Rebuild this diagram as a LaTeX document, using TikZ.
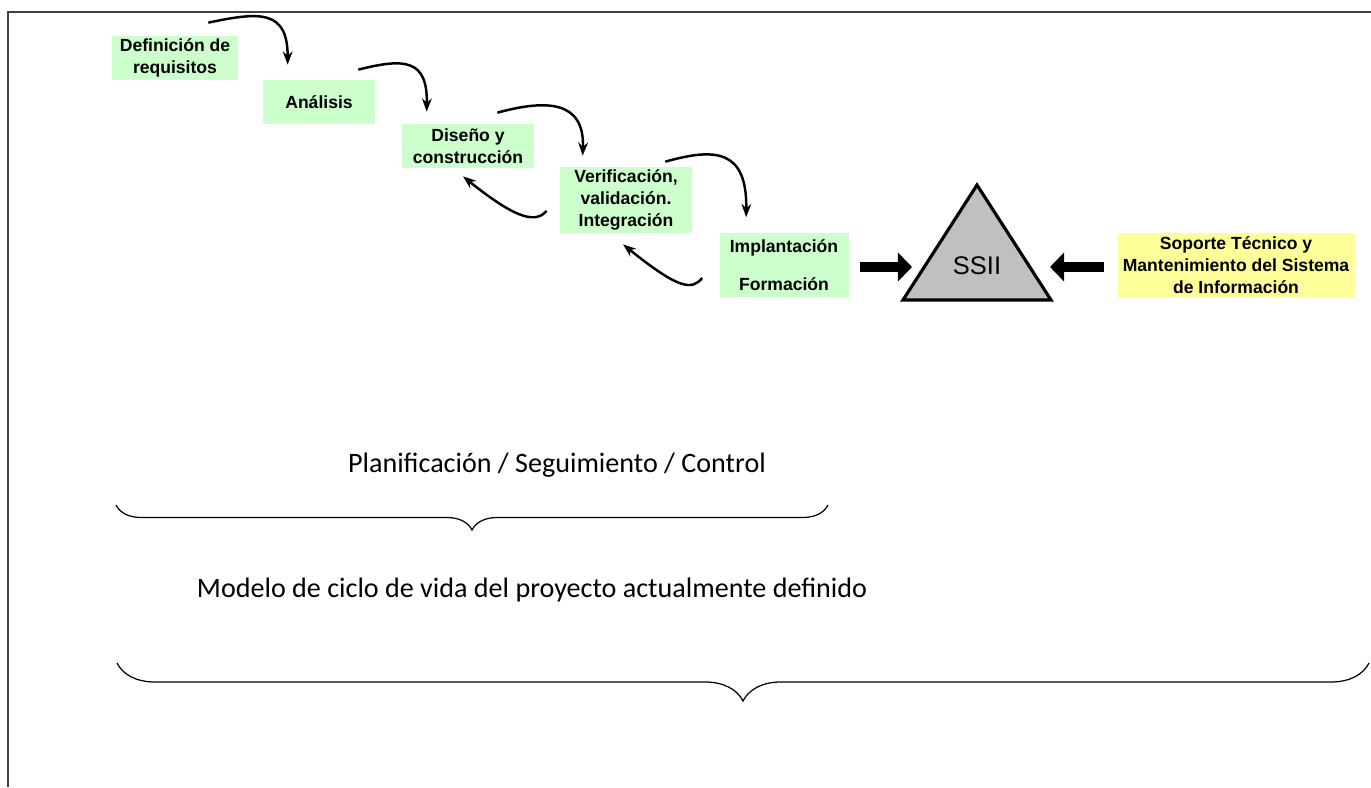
\documentclass[tikz,border=0pt]{standalone}
\usepackage{fontspec}
\newfontfamily\arialfont{Liberation Sans}
\newfontfamily\calibrifont{Carlito}
\usetikzlibrary{decorations.pathreplacing}
\usetikzlibrary{arrows.meta,calc}
\tikzset{>={Stealth[length=7.5pt,width=5.5pt]}}
\definecolor{phasegreen}{HTML}{CCFFCC}
\definecolor{supportyellow}{HTML}{FFFF99}
\definecolor{ssiigray}{HTML}{C0C0C0}
\definecolor{framegray}{HTML}{404040}
\tikzset{
  phase/.style={fill=phasegreen, inner sep=0pt, align=center,
    font=\arialfont\bfseries\fontsize{10}{12.5}\selectfont},
  flow/.style={->, line width=1.4pt},
  push/.style={-{Triangle[length=8pt,width=16pt]}, line width=5.2pt},
  bracket/.style={decorate, decoration={brace, mirror, amplitude=#1}, line width=0.7pt},
  caption/.style={font=\calibrifont\fontsize{16}{19}\selectfont}
}

\begin{document}
\begin{tikzpicture}[x=0.02cm, y=-0.02cm]
    \useasboundingbox (0,0) rectangle (1371,787);
    \draw[framegray, line width=1.2pt] (8,787) -- (8,12) -- (1371,12);

    % phases
    \node[phase, minimum width=2.52cm, minimum height=0.88cm] (defreq) at (175,58) {Definición de\\requisitos};
    \node[phase, minimum width=2.24cm, minimum height=0.88cm] (analisis) at (319,102) {Análisis};
    \node[phase, minimum width=2.64cm, minimum height=0.88cm] (diseno) at (468,146) {Diseño y\\construcción};
    \node[phase, minimum width=2.64cm, minimum height=1.32cm] (verif) at (626,200) {Verificación,\\validación.\\Integración};
    \node[phase, minimum width=2.58cm, minimum height=1.30cm] (implant) at (784,265) {Implantación\\[9.5pt]Formación};
    \node[phase, fill=supportyellow, minimum width=4.74cm, minimum height=1.30cm] (soporte) at (1236,265) {Soporte Técnico y\\Mantenimiento del Sistema\\de Información};

    \draw[flow] ($(defreq.north east)+(-30,-13)$) .. controls ($(defreq.north east)+(22,-24)$) and ($(analisis.north west)+(25,-70)$) .. ($(analisis.north west)+(25,-15)$);
    \draw[flow] ($(analisis.north east)+(-17,-10)$) .. controls ($(analisis.north east)+(30,-22)$) and ($(diseno.north west)+(26,-64)$) .. ($(diseno.north west)+(25,-12)$);
    \draw[flow] ($(diseno.north east)+(-37,-11)$) .. controls ($(diseno.north east)+(11,-24)$) and ($(verif.north west)+(25,-67)$) .. ($(verif.north west)+(23,-11)$);
    \draw[flow] ($(verif.north east)+(-27,-5)$) .. controls ($(verif.north east)+(23,-19)$) and ($(implant.north west)+(28,-83)$) .. ($(implant.north west)+(27,-15)$);
    \draw[flow] ($(verif.west)+(-13,11)$) .. controls ($(verif.west)+(-23,22)$) and ($(diseno.south)+(52,54)$) .. ($(diseno.south)+(-5,8)$);
    \draw[flow] ($(implant.west)+(-17,13)$) .. controls ($(implant.west)+(-27,25)$) and ($(verif.south)+(54,57)$) .. ($(verif.south)+(-3,11)$);

    % SSII
    \draw[fill=ssiigray, line width=1.8pt] (977,185) -- (1051,300) -- (903,300) -- cycle;
    \node[font=\arialfont\fontsize{14.5}{17}\selectfont] (ssii) at (977,266) {SSII};
    \coordinate (ssiiL) at (912,267);
    \coordinate (ssiiR) at (1050,267);
    \draw[push] ($(implant.east)+(11,2)$) -- (ssiiL);
    \draw[push] ($(soporte.west)+(-13,2)$) -- (ssiiR);

    \node[caption] (plan) at (557,465) {Planificación / Seguimiento / Control};
    \draw[bracket=0.5cm] (116,505) -- (828,505);
    \node[caption] (modelo) at (532,590) {Modelo de ciclo de vida del proyecto actualmente definido};
    \draw[bracket=0.76cm] (117,663) -- (1369,663);
\end{tikzpicture}
\end{document}
